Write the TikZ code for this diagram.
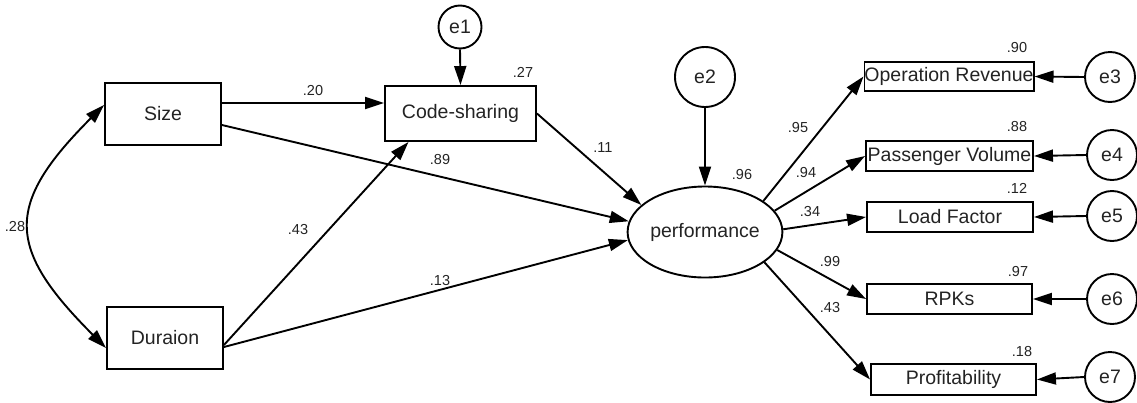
\documentclass[tikz,border=0pt]{standalone}
\usepackage{fontspec}
\setmainfont{Liberation Sans}
\usetikzlibrary{arrows.meta,shapes.geometric,calc}
\definecolor{txt}{RGB}{35,35,35}
\tikzset{
  obs/.style={draw,line width=1.9pt,rectangle,inner sep=0pt,text=txt,font=\fontsize{19.5}{22}\selectfont},
  lat/.style={draw,line width=1.9pt,ellipse,inner sep=0pt,minimum width=140pt,minimum height=91pt,text=txt,font=\fontsize{19.5}{22}\selectfont},
  err/.style={draw,line width=1.9pt,circle,inner sep=0pt,text=txt,font=\fontsize{19.5}{22}\selectfont},
  num/.style={inner sep=0pt,text=txt,font=\fontsize{14.5}{16}\selectfont},
  path/.style={line width=1.9pt,-{Triangle[length=19pt,width=12pt]}},
  cov/.style={line width=1.9pt,{Triangle[length=19pt,width=12pt]}-{Triangle[length=19pt,width=12pt]}}
}
\begin{document}
\begin{tikzpicture}[x=1pt,y=-1pt]
\useasboundingbox (0,0) rectangle (1137,402);
% nodes
\node[obs,minimum width=116pt,minimum height=62pt] (Size) at (163,114) {Size};
\node[obs,minimum width=116pt,minimum height=62pt] (Dur) at (165,338) {Duraion};
\node[obs,minimum width=151pt,minimum height=55pt] (Code) at (460.5,113.5) {Code-sharing};
\node[err,minimum size=43pt] (e1) at (460,27) {e1};
\node[lat] (perf) at (705,232) {performance};
\node[err,minimum size=60pt] (e2) at (705,77) {e2};
\node[obs,minimum width=166pt,minimum height=29pt] (OpRev) at (949,76.5) {Operation Revenue};
\node[obs,minimum width=167pt,minimum height=30pt] (PassVol) at (949.5,156) {Passenger Volume};
\node[obs,minimum width=166pt,minimum height=30pt] (Load) at (950,217) {Load Factor};
\node[obs,minimum width=165pt,minimum height=30pt] (RPKs) at (949.5,299) {RPKs};
\node[obs,minimum width=165pt,minimum height=31pt] (Profit) at (953.5,379.5) {Profitability};
\node[err,minimum size=50pt] (e3) at (1110,77) {e3};
\node[err,minimum size=50pt] (e4) at (1112,155) {e4};
\node[err,minimum size=50pt] (e5) at (1112,216) {e5};
\node[err,minimum size=50pt] (e6) at (1112,299) {e6};
\node[err,minimum size=50pt] (e7) at (1110,377) {e7};
% connectors
\draw[path] ($(Size.east)+(0,-11)$) -- ($(Code.west)+(0,-10.5)$);
\draw[path] ($(Size.east)+(0,11)$) -- (perf.172);
\draw[path] ($(Dur.east)+(0,7)$) -- ($(Code.south)+(-52,0)$);
\draw[path] ($(Dur.east)+(0,9)$) -- (perf.186);
\draw[path] (Code.east) -- (perf.157);
\draw[path] (e1.south) -- (Code.north);
\draw[path] (e2.south) -- (perf.north);
\draw[path] (perf.28) -- (OpRev.west);
\draw[path] (perf.17) -- (PassVol.west);
\draw[path] (perf.2) -- (Load.west);
\draw[path] (perf.-14) -- (RPKs.west);
\draw[path] (perf.-27) -- (Profit.west);
\draw[path] (e3.west) -- (OpRev.east);
\draw[path] (e4.west) -- (PassVol.east);
\draw[path] (e5.west) -- (Load.east);
\draw[path] (e6.west) -- (RPKs.east);
\draw[path] (e7.west) -- (Profit.east);
\draw[cov] ($(Size.west)+(0,-9)$) .. controls +(-100,100) and +(-100,-100) .. ($(Dur.west)+(0,10)$);
% labels
\node[num] (l20) at (313,91) {.20};
\node[num] (l27) at (523,72) {.27};
\node[num] (l89) at (440,160) {.89};
\node[num] (l11) at (603,148) {.11};
\node[num] (l96) at (742,175) {.96};
\node[num] (l95) at (798,128) {.95};
\node[num] (l94) at (806,173) {.94};
\node[num] (l34) at (810,212) {.34};
\node[num] (l99) at (830,262) {.99};
\node[num] (l43b) at (830,308) {.43};
\node[num] (l43a) at (298,230) {.43};
\node[num] (l13) at (440,281) {.13};
\node[num] (l28) at (15,227) {.28};
\node[num] (l90) at (1017,48) {.90};
\node[num] (l88) at (1017,127) {.88};
\node[num] (l12) at (1017,188) {.12};
\node[num] (l97) at (1018,272) {.97};
\node[num] (l18) at (1022,352) {.18};
\end{tikzpicture}
\end{document}
